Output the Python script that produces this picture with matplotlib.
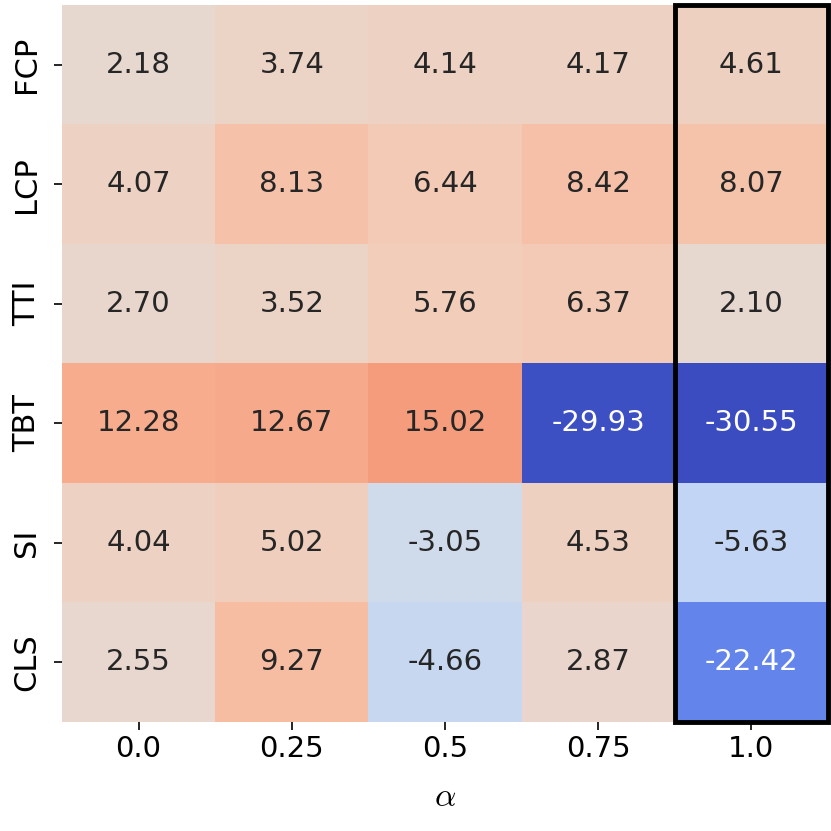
import numpy as np
import matplotlib
matplotlib.use("Agg")
import matplotlib.pyplot as plt
import seaborn as sns
from matplotlib.patches import Rectangle

metrics = ["FCP", "LCP", "TTI", "TBT", "SI", "CLS"]
alphas = ["0.0", "0.25", "0.5", "0.75", "1.0"]

fcp = [2.18, 3.74, 4.14, 4.17, 4.61]
lcp = [4.07, 8.13, 6.44, 8.42, 8.07]
tti = [2.70, 3.52, 5.76, 6.37, 2.10]
tbt = [12.28, 12.67, 15.02, -29.93, -30.55]
si = [4.04, 5.02, -3.05, 4.53, -5.63]
cls = [2.55, 9.27, -4.66, 2.87, -22.42]

values = np.array([fcp, lcp, tti, tbt, si, cls])

plt.rcParams["font.family"] = ["DejaVu Sans"]
plt.rcParams["mathtext.fontset"] = "cm"

fig = plt.figure(figsize=(8.31, 8.31), dpi=100)
ax = fig.add_axes([0.0746, 0.1312, 0.9218, 0.8628])

sns.heatmap(values, ax=ax, cmap="coolwarm", center=0, cbar=False,
            annot=True, fmt=".2f", annot_kws={"fontsize": 21},
            xticklabels=alphas, yticklabels=metrics)

# highlight the alpha = 1.0 column
ax.add_patch(Rectangle((4, 0), 1, 6, fill=False, edgecolor="black",
                       linewidth=3.5, clip_on=False))

ax.tick_params(axis="both", labelsize=21, length=6, width=1.2)
ax.tick_params(axis="y", labelsize=22, pad=9)
ax.set_yticklabels(metrics, rotation=90, va="center")
ax.set_xticklabels(alphas, rotation=0)
ax.set_xlabel(r"$\alpha$", fontsize=24, labelpad=12)

fig.savefig("out.png", dpi=100)
